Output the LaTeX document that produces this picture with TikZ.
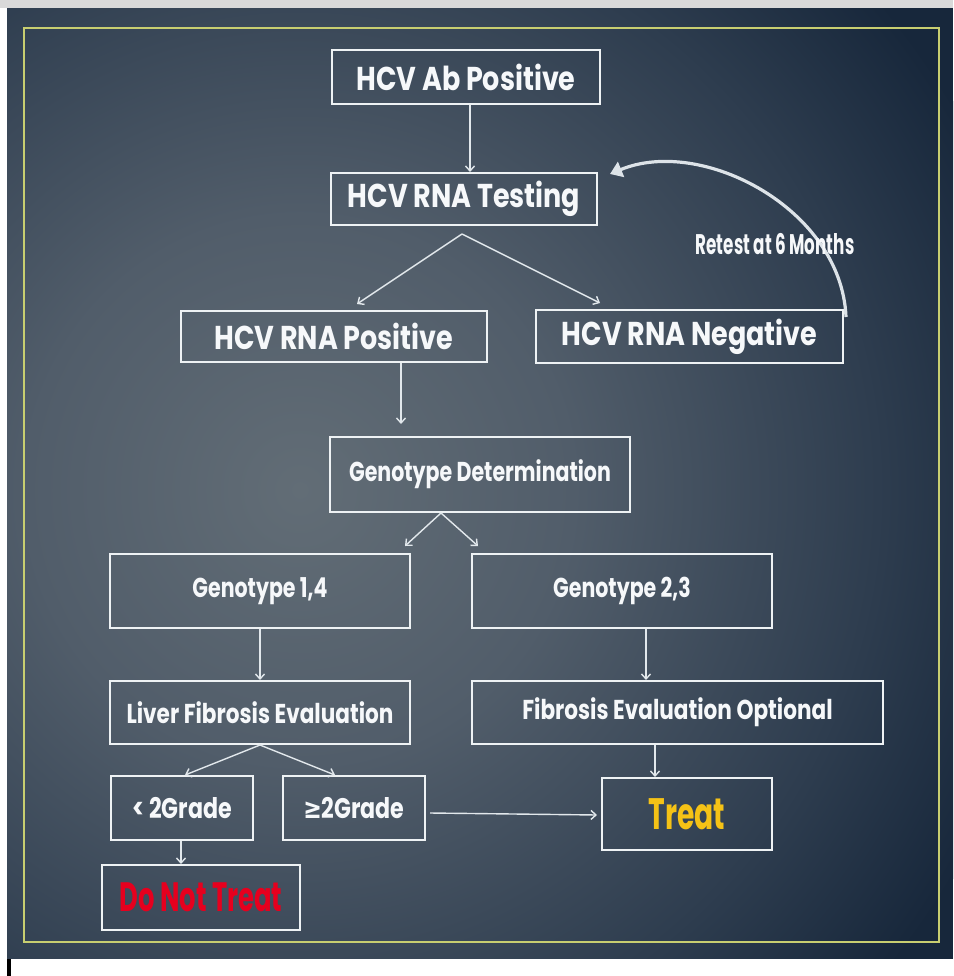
\documentclass[tikz,border=0pt]{standalone}
\usepackage{fontspec}
\usepackage{graphicx}
\setmainfont{Poppins}
\newfontfamily\symfont{DejaVu Sans}
\usetikzlibrary{arrows.meta,calc}

% palette
\definecolor{bgnavy}{HTML}{17273B}
\definecolor{glowA}{HTML}{626D76}
\definecolor{glowB}{HTML}{515D6A}
\definecolor{glowC}{HTML}{2E3D4F}
\definecolor{topgray}{HTML}{D9D9D9}
\definecolor{framecol}{RGB}{200,206,112}
\definecolor{boxline}{HTML}{EEF2F4}
\definecolor{arrowline}{HTML}{E2E8EC}
\definecolor{txtwhite}{HTML}{F6F8FA}
\definecolor{swooshcol}{HTML}{DDE3E8}
\definecolor{treatgold}{HTML}{F5C216}
\definecolor{stopred}{HTML}{E6001E}

\pgfdeclareradialshading{panelglow}{\pgfpoint{0bp}{0bp}}{%
  color(0bp)=(glowA); color(9bp)=(glowB); color(19bp)=(glowC);
  color(25bp)=(bgnavy); color(50bp)=(bgnavy)}

% squeeze a label: horizontal factor, vertical factor, text
\newcommand\hsq[3]{\scalebox{#1}[#2]{#3}}

\tikzset{
  stepbox/.style={draw=boxline, line width=2pt, inner sep=0pt, text=txtwhite},
  arr/.style={draw=arrowline, line width=1.4pt,
    -{Straight Barb[length=5pt,width=9pt]}},
  titletext/.style={font=\bfseries\fontsize{30}{30}\selectfont},
  midtext/.style={font=\bfseries\fontsize{26}{26}\selectfont},
  gradetext/.style={font=\bfseries\fontsize{27}{27}\selectfont},
}

\begin{document}
\begin{tikzpicture}[x=1pt,y=-1pt]
\useasboundingbox (0,0) rectangle (953,976);
\fill[white] (0,0) rectangle (953,976);

% backdrop
\begin{scope}
  \clip (7,8) rectangle (953,959);
  \fill[bgnavy] (7,8) rectangle (953,959);
  \shade[shading=panelglow] (300,490) circle (760);
\end{scope}
\fill[white] (0,959) rectangle (953,976);
\fill[white] (0,8) rectangle (7,959);
\fill[topgray] (0,0) rectangle (953,8);
\fill[black] (7,959) rectangle (11,976);
\draw[framecol, line width=2.5pt] (24,28) rectangle (939,942);

% boxes
\node[stepbox, titletext, minimum width=268pt, minimum height=54pt] (ab) at (466,77) {\hsq{0.9}{1.1}{HCV Ab Positive}};
\node[stepbox, titletext, minimum width=266pt, minimum height=52pt] (test) at (464,199) {\hsq{0.9}{1.1}{HCV RNA Testing}};
\node[stepbox, titletext, minimum width=306pt, minimum height=51pt] (pos) at (334,336.5) {\hsq{0.9}{1.1}{HCV RNA Positive}};
\node[stepbox, titletext, minimum width=307pt, minimum height=53pt] (neg) at (689.5,336.5) {\hsq{0.9}{1.1}{HCV RNA Negative}};
\node[stepbox, midtext, minimum width=300pt, minimum height=75pt] (gdet) at (480,474.5) {\hsq{0.79}{1.05}{Genotype Determination}};
\node[stepbox, midtext, minimum width=300pt, minimum height=74pt] (g14) at (260,591) {\hsq{0.79}{1.05}{Genotype 1,4}};
\node[stepbox, midtext, minimum width=300pt, minimum height=74pt] (g23) at (622,591) {\hsq{0.79}{1.05}{Genotype 2,3}};
\node[stepbox, midtext, minimum width=300pt, minimum height=63pt] (lfe) at (260,712.5) {\hsq{0.83}{1.05}{Liver Fibrosis Evaluation}};
\node[stepbox, midtext, minimum width=411pt, minimum height=63pt] (feo) at (677.5,712.5) {\hsq{0.83}{1.05}{Fibrosis Evaluation Optional}};
\node[stepbox, gradetext, minimum width=142pt, minimum height=64pt] (lt2) at (182,808) {\hsq{0.82}{1.05}{< 2Grade}};
\node[stepbox, gradetext, minimum width=142pt, minimum height=64pt] (ge2) at (354,808) {\hsq{0.82}{1.05}{{\symfont ≥}2Grade}};
\node[stepbox, text=treatgold, font=\bfseries\fontsize{44}{44}\selectfont, minimum width=170pt, minimum height=72pt] (treat) at (687,814) {\hsq{0.64}{1}{Treat}};
\node[stepbox, text=stopred, font=\bfseries\fontsize{41}{41}\selectfont, minimum width=198pt, minimum height=65pt] (dnt) at (201,897.5) {\hsq{0.63}{1}{Do Not Treat}};

% connectors
\draw[arr] ([xshift=4pt]ab.south) -- ([xshift=6pt]test.north);
\coordinate (sA) at ([xshift=-2pt,yshift=-8pt]test.south);
\draw[arr] (sA) -- ([xshift=23pt,yshift=6pt]pos.north);
\draw[arr] (sA) -- ([xshift=-89.5pt,yshift=6pt]neg.north);
\draw[arr] ([xshift=67pt]pos.south) -- ([xshift=-79pt,yshift=12pt]gdet.north);
\coordinate (sB) at ([xshift=-39pt]gdet.south);
\draw[arr] (sB) -- ([xshift=145pt,yshift=7pt]g14.north);
\draw[arr] (sB) -- ([xshift=-144pt,yshift=7pt]g23.north);
\draw[arr] (g14) -- (lfe);
\draw[arr] ([xshift=24pt]g23.south) -- ([xshift=-31.5pt]feo.north);
\coordinate (sC) at (lfe.south);
\draw[arr] (sC) -- ([xshift=3pt]lt2.north);
\draw[arr] (sC) -- ([xshift=-19pt]ge2.north);
\draw[arr] ([xshift=-1pt]lt2.south) -- ([xshift=-20pt]dnt.north);
\draw[arr] ([xshift=4pt,yshift=-5pt]ge2.east) -- ([xshift=-4pt,yshift=-1pt]treat.west);
\draw[arr] ([xshift=-22.5pt]feo.south) -- ([xshift=-32pt]treat.north);

% retest loop
\coordinate (rTail) at ([xshift=2pt,yshift=-8pt]neg.north east);
\coordinate (rHead) at ([xshift=12pt,yshift=-2pt]test.north east);
\draw[swooshcol, line width=3.2pt, -{Triangle[length=12pt,width=16pt]}]
  (rTail) .. controls +(-4.5,-108) and +(92,-38) .. (rHead);
\node[text=txtwhite, font=\bfseries\fontsize{27}{27}\selectfont] (rlab) at (775,244) {\hsq{0.62}{1.05}{Retest at 6 Months}};
\end{tikzpicture}
\end{document}
